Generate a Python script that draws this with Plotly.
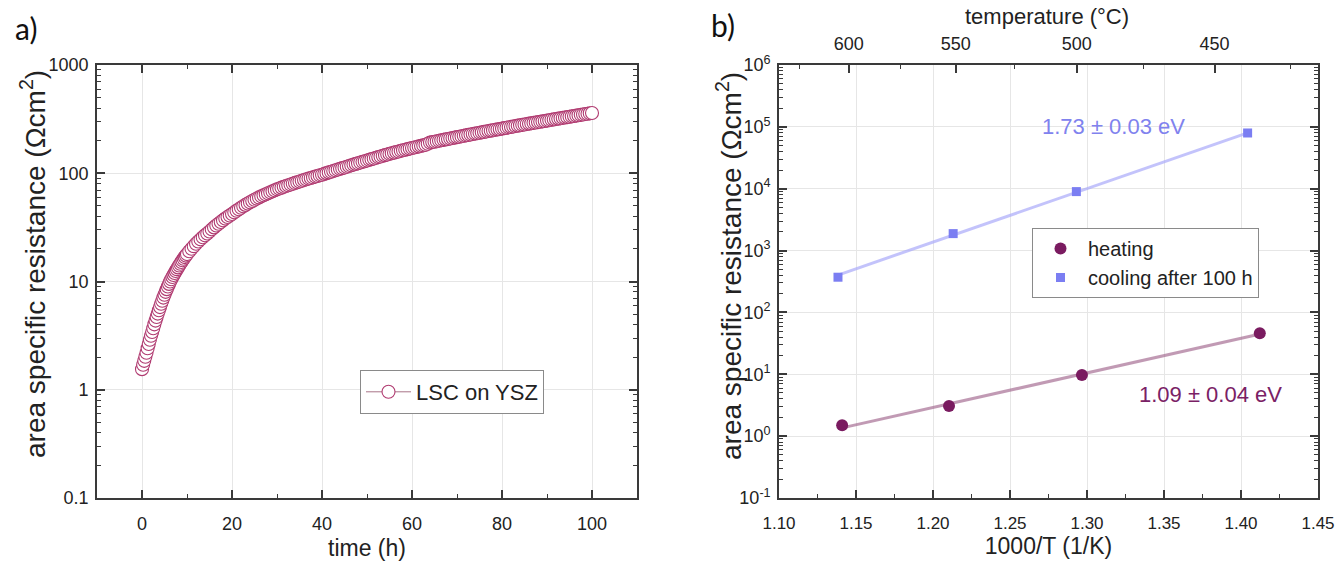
import numpy as np
import plotly.graph_objects as go

# ---------------- data: panel a) ----------------
time_h = np.concatenate([np.arange(0, 10, 0.25), np.arange(10, 100.5, 0.5)])
asr_time = [
    # 0 - 9.75 h (0.25 h steps)
    1.55, 1.7, 1.85, 2.02, 2.2, 2.42, 2.65, 2.9, 3.15, 3.42,
    3.7, 4.02, 4.35, 4.7, 5.05, 5.42, 5.8, 6.22, 6.65, 7.1,
    7.55, 8.02, 8.5, 9.0, 9.5, 10.0, 10.5, 11.0, 11.5, 12.0,
    12.5, 13.0, 13.5, 14.05, 14.6, 15.15, 15.7, 16.25, 16.8, 17.35,
    # 10 - 100 h (0.5 h steps)
    17.9, 19.0, 20.1, 21.2, 22.3, 23.4, 24.5, 25.6, 26.7, 27.8,
    29.0, 30.3, 31.6, 32.9, 34.2, 35.5, 36.8, 38.1, 39.4, 40.7,
    42.0, 43.5, 45.0, 46.5, 48.0, 49.5, 51.0, 52.5, 54.0, 55.5,
    57.0, 58.4, 59.8, 61.2, 62.6, 64.0, 65.4, 66.8, 68.2, 69.6,
    71.0, 72.3, 73.6, 74.9, 76.2, 77.5, 78.8, 80.1, 81.4, 82.7,
    84.0, 85.3, 86.6, 87.9, 89.2, 90.5, 91.8, 93.1, 94.4, 95.7,
    97.0, 98.6, 100.2, 101.8, 103.4, 105.0, 106.6, 108.2, 109.8, 111.4,
    113.0, 114.8, 116.6, 118.4, 120.2, 122.0, 123.8, 125.6, 127.4, 129.2,
    131, 133, 135, 137, 139, 141, 143, 145, 147, 149,
    151, 153, 155, 157, 159, 161, 163, 165, 167, 169,
    171, 173, 175, 177, 179, 181, 183, 187, 192, 194,
    195.5, 197.5, 199.5, 201.5, 203.5, 205.5, 207.5, 209.5, 211.5, 213.5,
    215.5, 217.6, 219.7, 221.8, 223.9, 226.0, 228.1, 230.2, 232.3, 234.4,
    236.5, 238.7, 240.9, 243.1, 245.3, 247.5, 249.7, 251.9, 254.1, 256.3,
    258.5, 260.9, 263.3, 265.7, 268.1, 270.5, 272.9, 275.3, 277.7, 280.1,
    282.5, 284.9, 287.3, 289.7, 292.1, 294.5, 296.9, 299.3, 301.7, 304.1,
    306.5, 309.1, 311.7, 314.3, 316.9, 319.5, 322.1, 324.7, 327.3, 329.9,
    332.5, 335.3, 338.1, 340.9, 343.7, 346.5, 349.3, 352.1, 354.9, 357.7,
    360.5,
]
time_ticks = [0, 20, 40, 60, 80, 100]
asr_ticks_a = [0.1, 1, 10, 100, 1000]
asr_ticktext_a = ["0.1", "1", "10", "100", "1000"]

# ---------------- data: panel b) ----------------
heat_invT = [1.141, 1.2104, 1.2967, 1.4122]
heat_asr = [1.50, 3.07, 9.7, 45.9]
cool_invT = [1.1383, 1.2131, 1.2931, 1.4043]
cool_asr = [371, 1880, 8980, 79600]
heat_fit_invT = [1.141, 1.4103]
heat_fit_asr = [1.36, 43.5]
cool_fit_invT = [1.1383, 1.4043]
cool_fit_asr = [402, 80000]
invT_ticks = [1.10, 1.15, 1.20, 1.25, 1.30, 1.35, 1.40, 1.45]
invT_ticktext = ["1.10", "1.15", "1.20", "1.25", "1.30", "1.35", "1.40", "1.45"]
asr_ticks_b = [0.1, 1, 10, 100, 1e3, 1e4, 1e5, 1e6]
asr_ticktext_b = ["10<sup>-1</sup>", "10<sup>0</sup>", "10<sup>1</sup>", "10<sup>2</sup>",
                  "10<sup>3</sup>", "10<sup>4</sup>", "10<sup>5</sup>", "10<sup>6</sup>"]
temp_major_C = [600, 550, 500, 450]
temp_minor_C = [625, 575, 525, 475, 425]
Ea_cool_label = "1.73 ± 0.03 eV"
Ea_heat_label = "1.09 ± 0.04 eV"
y_title = "area specific resistance (Ωcm<sup>2</sup>)"
top_title = "temperature (°C)"

to_invT = lambda T: [1000.0 / (t + 273.15) for t in T]

FONT = "Liberation Sans, Arial, Helvetica, sans-serif"
AX = "#3a3a3a"
GRID = "#e6e6e6"
HEAT = "#7a1b60"
COOL = "#7b7ef2"
LSC = "#b03a70"

fig = go.Figure()

# panel a
fig.add_trace(go.Scatter(
    x=time_h, y=asr_time, mode="lines+markers", name="LSC on YSZ",
    line=dict(color="#a87488", width=1),
    marker=dict(symbol="circle", size=13, color="white",
                line=dict(color=LSC, width=1.1)),
    xaxis="x", yaxis="y", legend="legend",
))

# panel b fits
fig.add_trace(go.Scatter(
    x=heat_fit_invT, y=heat_fit_asr, mode="lines", showlegend=False,
    line=dict(color="rgba(160,100,140,0.65)", width=3),
    xaxis="x2", yaxis="y2", hoverinfo="skip",
))
fig.add_trace(go.Scatter(
    x=cool_fit_invT, y=cool_fit_asr, mode="lines", showlegend=False,
    line=dict(color="rgba(170,170,250,0.7)", width=3),
    xaxis="x2", yaxis="y2", hoverinfo="skip",
))
fig.add_trace(go.Scatter(
    x=heat_invT, y=heat_asr, mode="markers", name="heating",
    marker=dict(symbol="circle", size=12, color=HEAT),
    xaxis="x2", yaxis="y2", legend="legend2",
))
fig.add_trace(go.Scatter(
    x=cool_invT, y=cool_asr, mode="markers", name="cooling after 100 h",
    marker=dict(symbol="square", size=9, color=COOL),
    xaxis="x2", yaxis="y2", legend="legend2",
))
# dummy trace to activate top temperature axis
fig.add_trace(go.Scatter(
    x=[None], y=[None], xaxis="x3", yaxis="y2", showlegend=False, hoverinfo="skip",
))

# the page body margin is removed by post_script, so figure px = screen px
W, H = 1338, 565
def xd(a, b):
    return [a / W, b / W]
def yd(top, bottom):
    return [1 - bottom / H, 1 - top / H]
def px(x):
    return x / W
def py(y):
    return 1 - y / H

common = dict(
    showline=True, linecolor=AX, linewidth=1.6,
    ticks="inside", ticklen=8, tickwidth=1.6, tickcolor=AX,
    showgrid=True, gridcolor=GRID, gridwidth=1, zeroline=False,
    tickfont=dict(family=FONT, size=18, color="#222"),
    automargin=False, ticklabeloverflow="allow",
)
minor_lin = lambda d: dict(ticks="inside", ticklen=4, tickwidth=1.3, tickcolor=AX,
                           dtick=d, showgrid=False)
minor_log = dict(ticks="inside", ticklen=4, tickwidth=1.3, tickcolor=AX,
                 dtick="D1", showgrid=False)

x2_common = dict(common)
x2_common["tickfont"] = dict(family=FONT, size=17, color="#222")

fig.update_layout(
    width=W, height=H,
    margin=dict(l=0, r=0, t=0, b=0),
    paper_bgcolor="white", plot_bgcolor="white",
    font=dict(family=FONT, color="#222"),
    xaxis=dict(**common, domain=xd(97, 637), range=[-10, 110], anchor="y",
               tickmode="array", tickvals=time_ticks, mirror="ticks",
               minor=minor_lin(10), ticklabelstandoff=9,
               title=dict(text="time (h)", font=dict(size=23, family=FONT), standoff=6)),
    yaxis=dict(**common, domain=yd(65, 498), type="log", range=[-1, 3], anchor="x",
               tickmode="array", tickvals=asr_ticks_a, ticktext=asr_ticktext_a,
               mirror="ticks", minor=minor_log, ticklabelstandoff=3),
    xaxis2=dict(**x2_common, domain=xd(779, 1318), range=[1.10, 1.45], anchor="y2",
                tickmode="array", tickvals=invT_ticks, ticktext=invT_ticktext,
                mirror=True, minor=minor_lin(0.025), ticklabelstandoff=9,
                title=dict(text="1000/T (1/K)", font=dict(size=23, family=FONT), standoff=6)),
    yaxis2=dict(**common, domain=yd(65, 498), type="log", range=[-1, 6], anchor="x2",
                tickmode="array", tickvals=asr_ticks_b, ticktext=asr_ticktext_b,
                mirror="ticks", minor=minor_log, ticklabelstandoff=3),
    xaxis3=dict(showline=False, ticks="inside", ticklen=8, tickwidth=1.6, tickcolor=AX,
                showgrid=False, zeroline=False, automargin=False,
                tickfont=dict(family=FONT, size=18, color="#222"),
                overlaying="x2", side="top", anchor="y2", range=[1.10, 1.45],
                tickmode="array", tickvals=to_invT(temp_major_C),
                ticktext=[str(t) for t in temp_major_C],
                minor=dict(ticks="inside", ticklen=4, tickwidth=1.3, tickcolor=AX,
                           tickvals=to_invT(temp_minor_C), showgrid=False),
                ticklabelstandoff=10),
    legend=dict(x=px(360), y=py(370), xanchor="left", yanchor="top",
                bgcolor="white", bordercolor="#8a8a8a", borderwidth=1,
                font=dict(family=FONT, size=22, color="#222"), itemwidth=45),
    legend2=dict(x=px(1032), y=py(228), xanchor="left", yanchor="top",
                 bgcolor="white", bordercolor="#8a8a8a", borderwidth=1,
                 font=dict(family=FONT, size=20, color="#222"), itemwidth=45),
    annotations=[
        dict(text="a)", xref="paper", yref="paper", x=px(26), y=py(28),
             xanchor="center", yanchor="middle", showarrow=False,
             font=dict(family="Lato, Open Sans, sans-serif", size=30, color="#111")),
        dict(text="b)", xref="paper", yref="paper", x=px(723), y=py(25),
             xanchor="center", yanchor="middle", showarrow=False,
             font=dict(family="Lato, Open Sans, sans-serif", size=30, color="#111")),
        dict(text=y_title, xref="paper", yref="paper", x=px(33), y=py(264),
             xanchor="center", yanchor="middle", textangle=-90, showarrow=False,
             font=dict(family=FONT, size=28, color="#222")),
        dict(text=y_title, xref="paper", yref="paper", x=px(729), y=py(266),
             xanchor="center", yanchor="middle", textangle=-90, showarrow=False,
             font=dict(family=FONT, size=28, color="#222")),
        dict(text=top_title, xref="paper", yref="paper", x=px(1047), y=py(16),
             xanchor="center", yanchor="middle", showarrow=False,
             font=dict(family=FONT, size=22, color="#222")),
        dict(text=Ea_cool_label, xref="x2", yref="y2", x=1.3175, y=5.0,
             showarrow=False, font=dict(family=FONT, size=22, color="#8082ee")),
        dict(text=Ea_heat_label, xref="x2", yref="y2", x=1.3805, y=0.67,
             showarrow=False, font=dict(family=FONT, size=22, color="#7a2165")),
    ],
)

fig.write_html("out.html",
               config={"displayModeBar": False},
               post_script="document.body.style.margin='0px';document.body.style.overflow='hidden';")
